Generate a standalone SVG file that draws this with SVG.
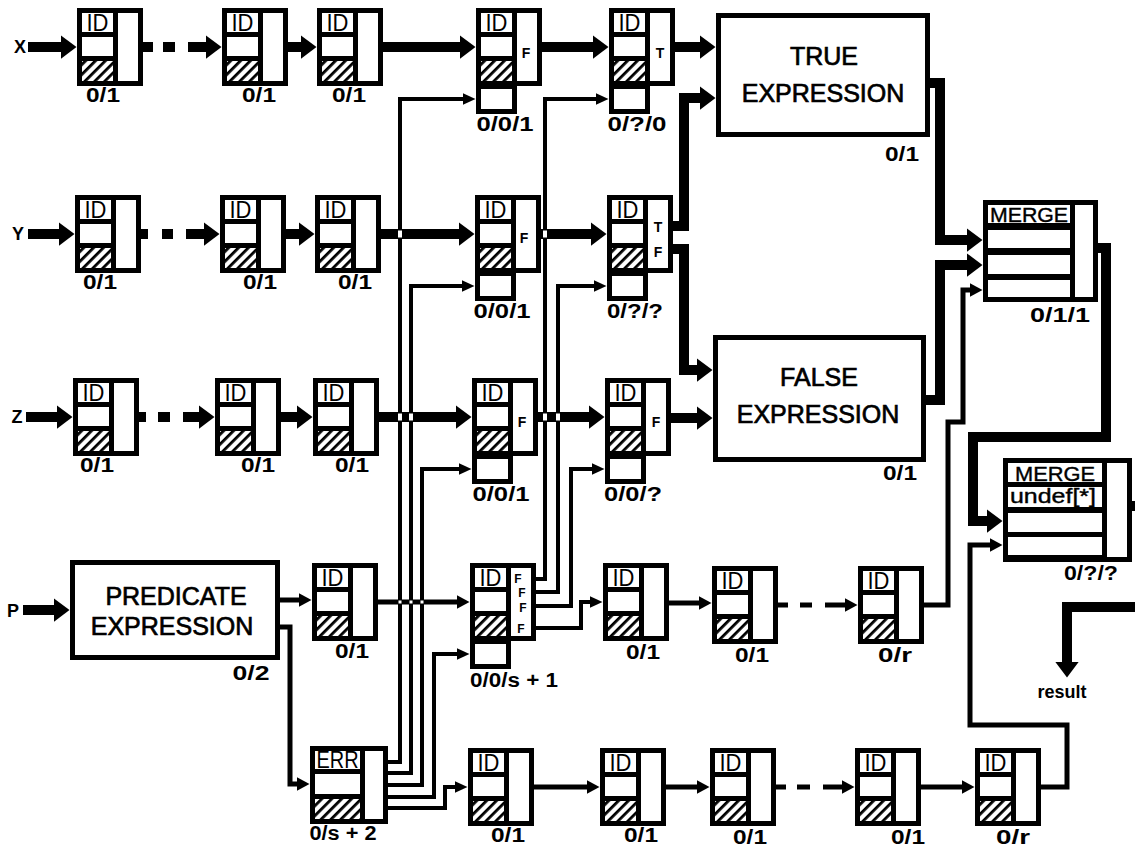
<svg xmlns="http://www.w3.org/2000/svg" xmlns:xlink="http://www.w3.org/1999/xlink" width="1135" height="848" viewBox="0 0 1135 848">
<style>
text{font-family:"Liberation Sans",Arial,Helvetica,sans-serif;fill:#000}
.lbl{font-size:20px;font-weight:bold;text-anchor:middle}
.idt{font-size:23px;text-anchor:middle}
.big{font-size:25px;text-anchor:middle;stroke:#000;stroke-width:0.7}
.inl{font-size:18px;font-weight:bold;text-anchor:middle}
.cl{font-size:14px;font-weight:bold;text-anchor:middle}
.cs{font-size:12px;font-weight:bold;text-anchor:middle}
.mt{font-size:21px;text-anchor:middle;stroke:#000;stroke-width:0.4}
.k{fill:none;stroke:#000;stroke-linejoin:miter;stroke-linecap:butt}
.w10{stroke-width:10}
.w5{stroke-width:5}
.w4{stroke-width:4}
.box{fill:#fff;stroke:#000;stroke-width:5}
.wh{fill:#fff}
.bk{fill:#000}
</style>
<defs>
<pattern id="hatch" patternUnits="userSpaceOnUse" width="7" height="7" patternTransform="rotate(45)">
<rect width="7" height="7" fill="#fff"/><rect width="2.8" height="7" fill="#000"/>
</pattern>
<marker id="aT" markerUnits="userSpaceOnUse" viewBox="0 0 16 24" markerWidth="16" markerHeight="24" refX="0.5" refY="12" orient="auto"><path d="M0,0L16,12L0,24Z"/></marker>
<marker id="aM" markerUnits="userSpaceOnUse" viewBox="0 0 13 14" markerWidth="13" markerHeight="14" refX="0.5" refY="7" orient="auto"><path d="M0,0L13,7L0,14Z"/></marker>
<marker id="aS" markerUnits="userSpaceOnUse" viewBox="0 0 13 12" markerWidth="13" markerHeight="12" refX="0.5" refY="6" orient="auto"><path d="M0,0L13,6L0,12Z"/></marker>
<g id="idn">
<rect class="bk" width="66" height="78"/>
<rect class="wh" x="5" y="5" width="31" height="19"/>
<text class="idt" x="20.5" y="23" textLength="22" lengthAdjust="spacingAndGlyphs">ID</text>
<rect class="wh" x="5" y="29" width="31" height="19"/>
<rect x="5" y="53" width="31" height="20" fill="url(#hatch)"/>
<rect class="wh" x="41" y="5" width="20" height="68"/>
</g>
<g id="idx">
<use href="#idn"/>
<rect class="bk" y="76" width="41" height="30"/>
<rect class="wh" x="5" y="81" width="31" height="20"/>
</g>
</defs>
<rect width="1135" height="848" fill="#fff"/>

<g id="inputs">
<text class="inl" x="20" y="53">X</text>
<text class="inl" x="18" y="240">Y</text>
<text class="inl" x="17" y="423">Z</text>
<text class="inl" x="13" y="617">P</text>
<text class="inl" x="1062" y="698">result</text>
</g>

<g id="connectors">
<path class="k w10" d="M28,47H61" marker-end="url(#aT)"/>
<path class="k w10" d="M143,47H153M163,47H175"/>
<path class="k w10" d="M188,47H206" marker-end="url(#aT)"/>
<path class="k w10" d="M288,47H301" marker-end="url(#aT)"/>
<path class="k w10" d="M383,47H460" marker-end="url(#aT)"/>
<path class="k w10" d="M542,47H593" marker-end="url(#aT)"/>
<path class="k w10" d="M675,47H700" marker-end="url(#aT)"/>
<path class="k w10" d="M28,234H59" marker-end="url(#aT)"/>
<path class="k w10" d="M141,234H148M162,234H173"/>
<path class="k w10" d="M186,234H204" marker-end="url(#aT)"/>
<path class="k w10" d="M286,234H299" marker-end="url(#aT)"/>
<path class="k w10" d="M381,234H459" marker-end="url(#aT)"/>
<path class="k w10" d="M541,234H591" marker-end="url(#aT)"/>
<path class="k w10" d="M673,226H684V98H700" marker-end="url(#aT)"/>
<path class="k w10" d="M673,249H684V370H697" marker-end="url(#aT)"/>
<path class="k w10" d="M26,417H57" marker-end="url(#aT)"/>
<path class="k w10" d="M139,417H146M158,417H170"/>
<path class="k w10" d="M183,417H199" marker-end="url(#aT)"/>
<path class="k w10" d="M281,417H297" marker-end="url(#aT)"/>
<path class="k w10" d="M379,417H456" marker-end="url(#aT)"/>
<path class="k w10" d="M538,417H589" marker-end="url(#aT)"/>
<path class="k w10" d="M671,418H697" marker-end="url(#aT)"/>
<path class="k w10" d="M23,610H54" marker-end="url(#aT)"/>
<path class="k w5" d="M280,600H299" marker-end="url(#aM)"/>
<path class="k w5" d="M280,627H290V784H297" marker-end="url(#aM)"/>
<path class="k w5" d="M378,602H457" marker-end="url(#aM)"/>
<path class="k w4" d="M536,579H545V99H596" marker-end="url(#aS)"/>
<path class="k w4" d="M536,592H558V286H594" marker-end="url(#aS)"/>
<path class="k w4" d="M536,606H571V469H592" marker-end="url(#aS)"/>
<path class="k w4" d="M536,628H581V602H590" marker-end="url(#aS)"/>
<path class="k w5" d="M669,603H699" marker-end="url(#aM)"/>
<path class="k w5" d="M778,605H788M800,605H812"/>
<path class="k w5" d="M825,605H845" marker-end="url(#aM)"/>
<path class="k w5" d="M924,605H948V422H963V290H970" marker-end="url(#aM)"/>
<path class="k w4" d="M388,762H400V99H463" marker-end="url(#aS)"/>
<path class="k w4" d="M388,773H411V286H462" marker-end="url(#aS)"/>
<path class="k w4" d="M388,785H422V469H459" marker-end="url(#aS)"/>
<path class="k w4" d="M388,797H434V654H457" marker-end="url(#aS)"/>
<path class="k w4" d="M388,808H445V787H455" marker-end="url(#aS)"/>
<path class="k w5" d="M534,787H587" marker-end="url(#aM)"/>
<path class="k w5" d="M666,787H697" marker-end="url(#aM)"/>
<path class="k w5" d="M776,787H786M797,787H810"/>
<path class="k w5" d="M823,787H842" marker-end="url(#aM)"/>
<path class="k w5" d="M921,787H962" marker-end="url(#aM)"/>
<path class="k w5" d="M1041,787H1067V725H970V545H990" marker-end="url(#aM)"/>
<path class="k w10" d="M930,83H940V240H967" marker-end="url(#aT)"/>
<path class="k w10" d="M926,400H940V265H967" marker-end="url(#aT)"/>
<path class="k w10" d="M1098,248H1106V437H973V521H987" marker-end="url(#aT)"/>
<path class="k w10" d="M1132,506H1135"/>
<path class="k w10" d="M1135,607H1067V662" marker-end="url(#aT)"/>
<g fill="#fff">
<rect x="398" y="230.5" width="4" height="7"/>
<rect x="543" y="230.5" width="4" height="7"/>
<rect x="398" y="413.5" width="4" height="7"/>
<rect x="409" y="413.5" width="4" height="7"/>
<rect x="543" y="413.5" width="4" height="7"/>
<rect x="556" y="413.5" width="4" height="7"/>
<rect x="398.5" y="600.5" width="3" height="3"/>
<rect x="409.5" y="600.5" width="3" height="3"/>
<rect x="420.5" y="600.5" width="3" height="3"/>
</g>
</g>

<g id="nodeX1"><use href="#idn" x="77" y="8"/><text class="lbl" x="103" y="102" textLength="34" lengthAdjust="spacingAndGlyphs">0/1</text></g>
<g id="nodeX2"><use href="#idn" x="222" y="8"/><text class="lbl" x="259" y="102" textLength="34" lengthAdjust="spacingAndGlyphs">0/1</text></g>
<g id="nodeX3"><use href="#idn" x="317" y="8"/><text class="lbl" x="349" y="102" textLength="34" lengthAdjust="spacingAndGlyphs">0/1</text></g>
<g id="nodeX4"><use href="#idx" x="476" y="8"/><text class="cl" x="526" y="58">F</text><text class="lbl" x="505" y="131" textLength="57" lengthAdjust="spacingAndGlyphs">0/0/1</text></g>
<g id="nodeX5"><use href="#idx" x="609" y="8"/><text class="cl" x="660" y="58">T</text><text class="lbl" x="637" y="131" textLength="59" lengthAdjust="spacingAndGlyphs">0/?/0</text></g>
<g id="nodeY1"><use href="#idn" x="75" y="195"/><text class="lbl" x="100" y="289" textLength="34" lengthAdjust="spacingAndGlyphs">0/1</text></g>
<g id="nodeY2"><use href="#idn" x="220" y="195"/><text class="lbl" x="260" y="289" textLength="34" lengthAdjust="spacingAndGlyphs">0/1</text></g>
<g id="nodeY3"><use href="#idn" x="315" y="195"/><text class="lbl" x="355" y="289" textLength="34" lengthAdjust="spacingAndGlyphs">0/1</text></g>
<g id="nodeY4"><use href="#idx" x="475" y="195"/><text class="cl" x="524" y="243">F</text><text class="lbl" x="502" y="318" textLength="57" lengthAdjust="spacingAndGlyphs">0/0/1</text></g>
<g id="nodeY5"><use href="#idx" x="607" y="195"/><text class="cl" x="658" y="232">T</text><text class="cl" x="658" y="257">F</text><text class="lbl" x="635" y="318" textLength="56" lengthAdjust="spacingAndGlyphs">0/?/?</text></g>
<g id="nodeZ1"><use href="#idn" x="73" y="378"/><text class="lbl" x="97" y="472" textLength="34" lengthAdjust="spacingAndGlyphs">0/1</text></g>
<g id="nodeZ2"><use href="#idn" x="215" y="378"/><text class="lbl" x="258" y="472" textLength="34" lengthAdjust="spacingAndGlyphs">0/1</text></g>
<g id="nodeZ3"><use href="#idn" x="313" y="378"/><text class="lbl" x="352" y="472" textLength="34" lengthAdjust="spacingAndGlyphs">0/1</text></g>
<g id="nodeZ4"><use href="#idx" x="472" y="378"/><text class="cl" x="522" y="427">F</text><text class="lbl" x="501" y="501" textLength="57" lengthAdjust="spacingAndGlyphs">0/0/1</text></g>
<g id="nodeZ5"><use href="#idx" x="605" y="378"/><text class="cl" x="656" y="427">F</text><text class="lbl" x="633" y="501" textLength="58" lengthAdjust="spacingAndGlyphs">0/0/?</text></g>
<g id="predicate"><rect class="box" x="72.5" y="562.5" width="205" height="95"/>
<text class="big" x="176" y="605">PREDICATE</text>
<text class="big" x="172" y="635">EXPRESSION</text>
<text class="lbl" x="251" y="680" textLength="37" lengthAdjust="spacingAndGlyphs">0/2</text></g>
<g id="nodeP3"><use href="#idn" x="312" y="563"/><text class="lbl" x="352" y="658" textLength="34" lengthAdjust="spacingAndGlyphs">0/1</text></g>
<g id="nodeP4"><use href="#idx" x="470" y="563"/>
<text class="cs" x="518" y="583">F</text><text class="cs" x="522" y="597">F</text><text class="cs" x="523" y="612">F</text><text class="cs" x="521" y="633">F</text>
<text class="lbl" x="514" y="687" textLength="88" lengthAdjust="spacingAndGlyphs">0/0/s + 1</text></g>
<g id="nodeP5"><use href="#idn" x="603" y="563"/><text class="lbl" x="643" y="659" textLength="34" lengthAdjust="spacingAndGlyphs">0/1</text></g>
<g id="nodeP6"><use href="#idn" x="712" y="566"/><text class="lbl" x="752" y="662" textLength="34" lengthAdjust="spacingAndGlyphs">0/1</text></g>
<g id="nodeP7"><use href="#idn" x="858" y="566"/><text class="lbl" x="895" y="662" textLength="34" lengthAdjust="spacingAndGlyphs">0/r</text></g>
<g id="nodeERR">
<rect class="bk" x="310" y="746" width="78" height="78"/>
<rect class="wh" x="315" y="751" width="45" height="18"/>
<text class="idt" x="337.5" y="768" textLength="42" lengthAdjust="spacingAndGlyphs">ERR</text>
<rect class="wh" x="315" y="774" width="45" height="20"/>
<rect x="315" y="799" width="45" height="20" fill="url(#hatch)"/>
<rect class="wh" x="365" y="751" width="18" height="68"/>
<text class="lbl" x="343" y="840" textLength="67" lengthAdjust="spacingAndGlyphs">0/s + 2</text></g>
<g id="nodeB1"><use href="#idn" x="468" y="748"/><text class="lbl" x="508" y="842" textLength="34" lengthAdjust="spacingAndGlyphs">0/1</text></g>
<g id="nodeB2"><use href="#idn" x="600" y="748"/><text class="lbl" x="641" y="842" textLength="34" lengthAdjust="spacingAndGlyphs">0/1</text></g>
<g id="nodeB3"><use href="#idn" x="710" y="748"/><text class="lbl" x="750" y="844" textLength="34" lengthAdjust="spacingAndGlyphs">0/1</text></g>
<g id="nodeB4"><use href="#idn" x="855" y="748"/><text class="lbl" x="908" y="844" textLength="34" lengthAdjust="spacingAndGlyphs">0/1</text></g>
<g id="nodeB5"><use href="#idn" x="975" y="748"/><text class="lbl" x="1013" y="844" textLength="34" lengthAdjust="spacingAndGlyphs">0/r</text></g>
<g id="trueExpr"><rect class="box" x="718.5" y="15.5" width="209" height="119"/>
<text class="big" x="824" y="65">TRUE</text>
<text class="big" x="823" y="102">EXPRESSION</text>
<text class="lbl" x="902" y="161" textLength="34" lengthAdjust="spacingAndGlyphs">0/1</text></g>
<g id="falseExpr"><rect class="box" x="715.5" y="337.5" width="208" height="122"/>
<text class="big" x="819" y="386">FALSE</text>
<text class="big" x="818" y="423">EXPRESSION</text>
<text class="lbl" x="900" y="480" textLength="34" lengthAdjust="spacingAndGlyphs">0/1</text></g>
<g id="merge1">
<rect class="bk" x="983" y="200" width="115" height="102"/>
<rect class="wh" x="988" y="205" width="82" height="18"/>
<text class="mt" x="1029" y="222" textLength="78" lengthAdjust="spacingAndGlyphs">MERGE</text>
<rect class="wh" x="988" y="230" width="82" height="18"/>
<rect class="wh" x="988" y="255" width="82" height="19"/>
<rect class="wh" x="988" y="280" width="82" height="17"/>
<rect class="wh" x="1075" y="205" width="18" height="92"/>
<text class="lbl" x="1060" y="322" textLength="60" lengthAdjust="spacingAndGlyphs">0/1/1</text></g>
<g id="merge2">
<rect class="bk" x="1003" y="458" width="129" height="104"/>
<rect class="wh" x="1008" y="463" width="94" height="19"/>
<text class="mt" x="1055" y="481" textLength="80" lengthAdjust="spacingAndGlyphs">MERGE</text>
<rect class="wh" x="1008" y="487" width="94" height="20"/>
<text class="mt" x="1053" y="503" textLength="86" lengthAdjust="spacingAndGlyphs">undef[*]</text>
<rect class="wh" x="1008" y="513" width="94" height="19"/>
<rect class="wh" x="1008" y="537" width="94" height="18"/>
<rect class="wh" x="1107" y="463" width="20" height="94"/>
<text class="lbl" x="1091" y="580" textLength="54" lengthAdjust="spacingAndGlyphs">0/?/?</text></g>
</svg>
